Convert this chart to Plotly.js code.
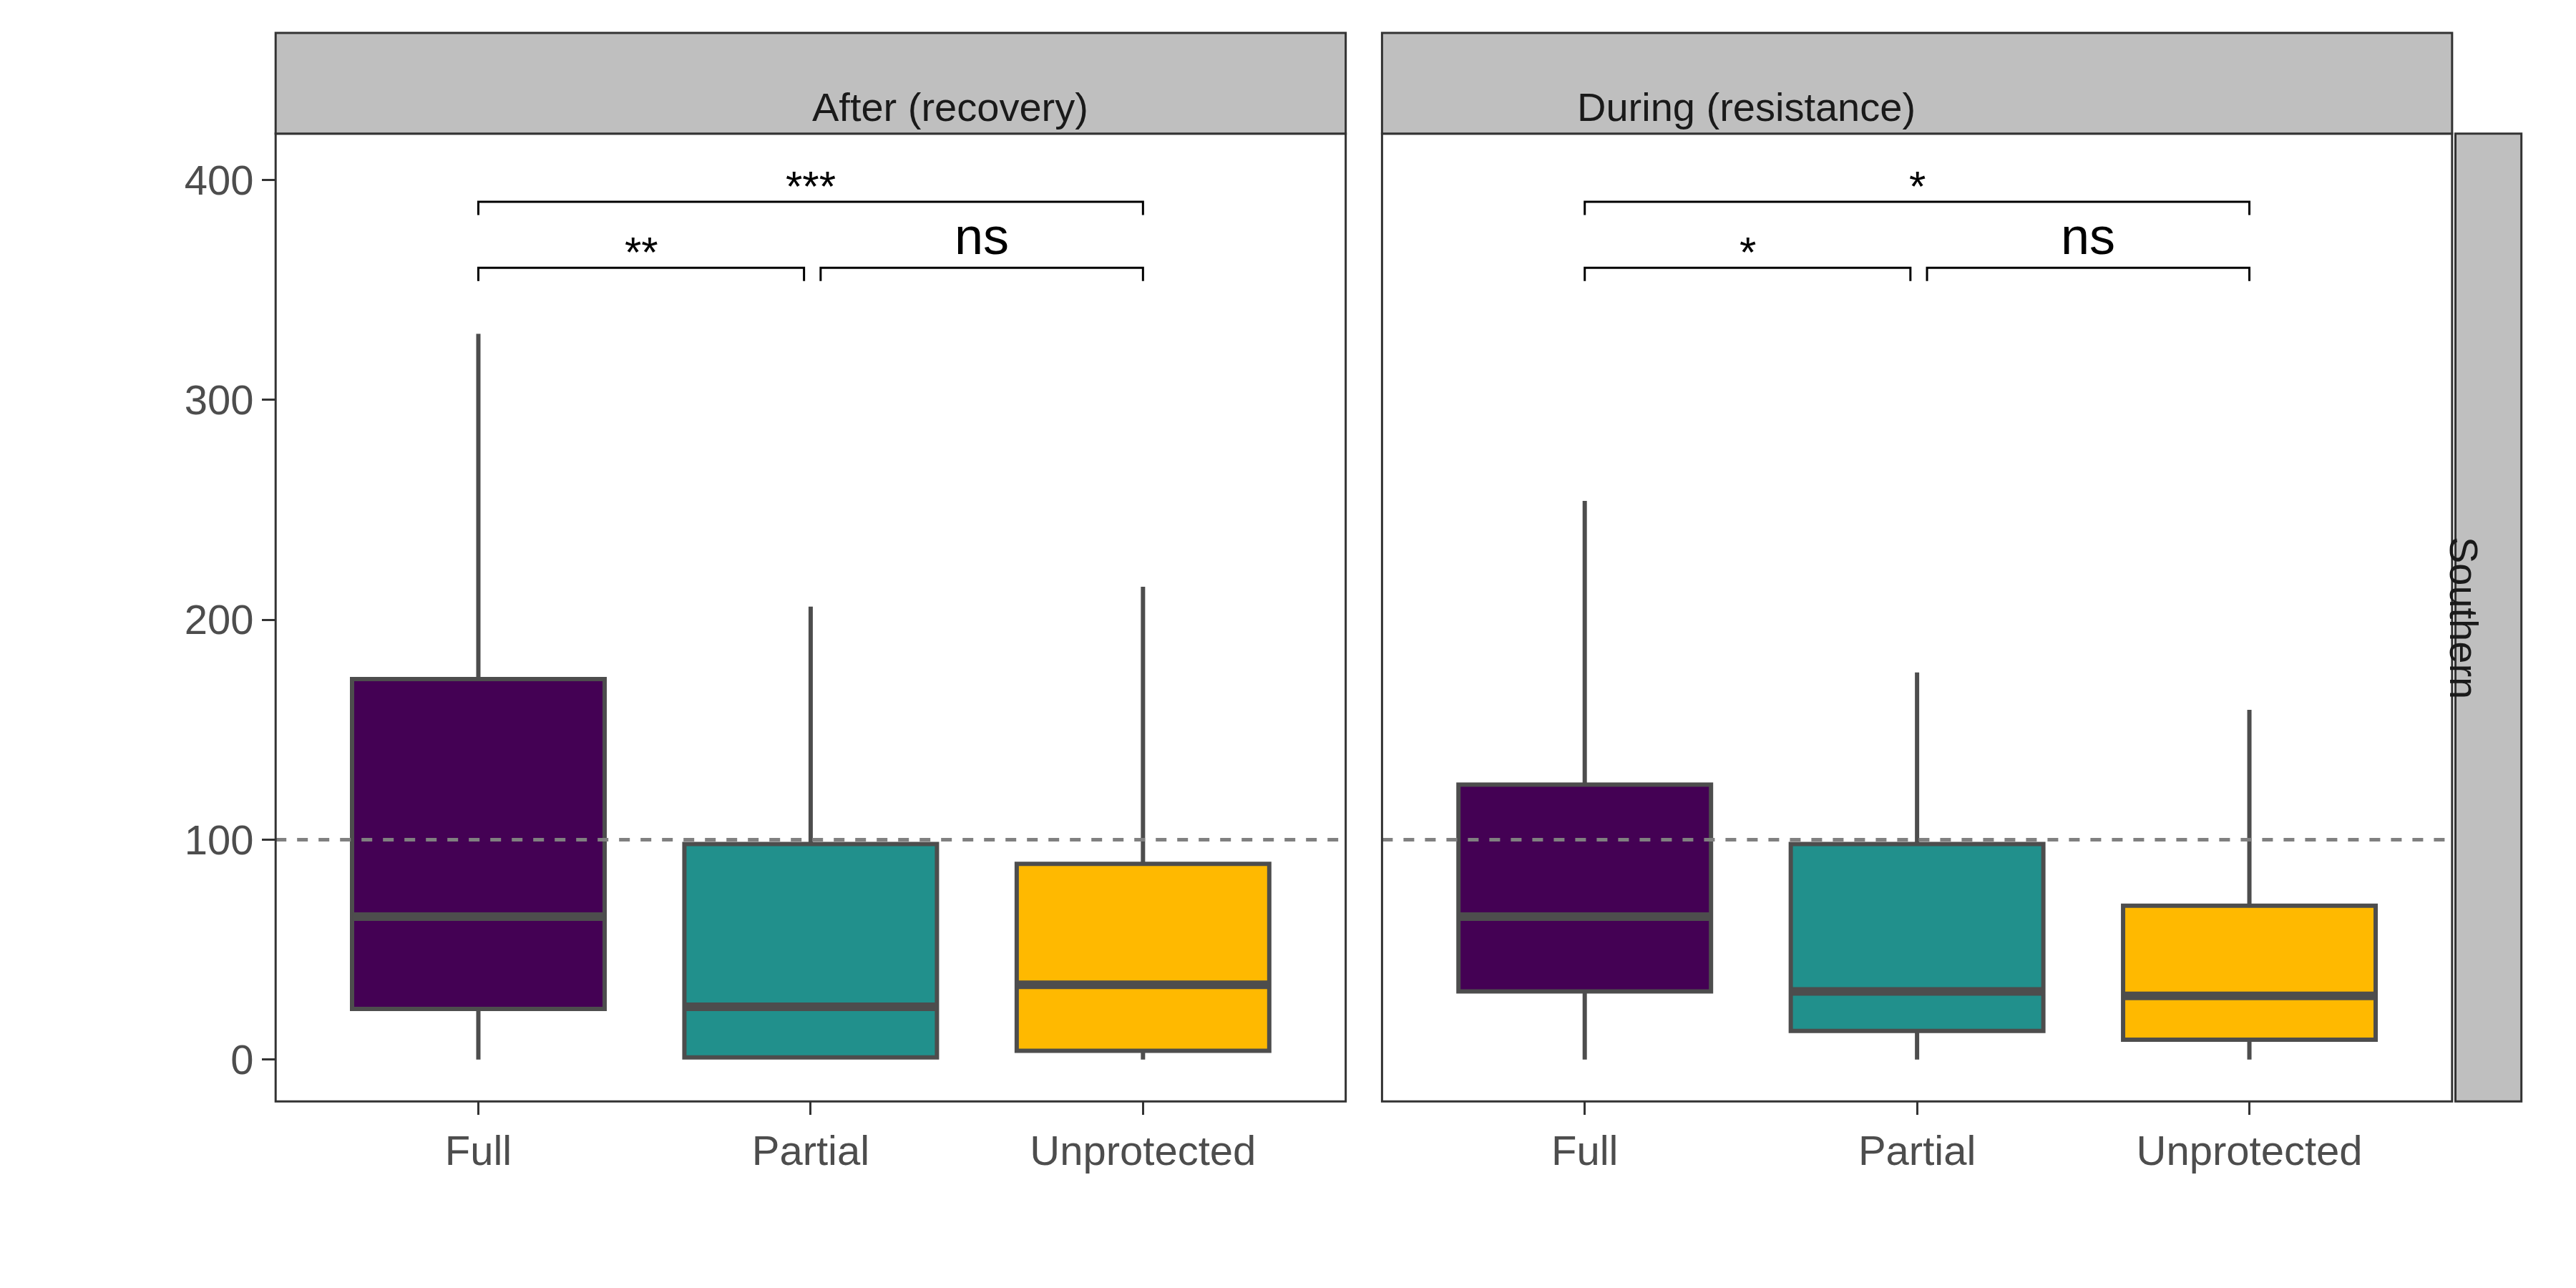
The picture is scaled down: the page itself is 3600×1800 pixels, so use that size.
<!DOCTYPE html>
<html>
<head>
<meta charset="utf-8">
<script src="https://cdn.plot.ly/plotly-3.0.1.min.js"></script>
<style>body{margin:0;background:#fff}</style>
</head>
<body>
<div id="graph"></div>
<script>
var categories = ["Full", "Partial", "Unprotected"];
var colors = ["#440154", "#21908C", "#FFB900"];
var panels = ["After (recovery)", "During (resistance)"];
// percent values per panel, per category
var q1     = [[23, 1, 4],     [31, 13, 9]];
var median = [[65, 24, 34],   [65, 31, 29]];
var q3     = [[173, 98, 89],  [125, 98, 70]];
var lower  = [[0, 0, 0],      [0, 0, 0]];
var upper  = [[330, 206, 215],[254, 176, 159]];
var sigLabels = [["**", "ns", "***"], ["*", "ns", "*"]];

var boxW = 0.76;
var line = "#4d4d4d";
var xDom = [[0.107, 0.5224], [0.5365, 0.9519]];
var yDom = [0.1449, 0.8962];
var data = [], shapes = [], annotations = [];

for (var p = 0; p < 2; p++) {
  var xa = p === 0 ? "x" : "x2", ya = p === 0 ? "y" : "y2";
  for (var c = 0; c < 3; c++) {
    data.push({
      type: "box", x: [c], q1: [q1[p][c]], median: [median[p][c]], q3: [q3[p][c]],
      lowerfence: [lower[p][c]], upperfence: [upper[p][c]],
      width: boxW, whiskerwidth: 0, fillcolor: colors[c],
      line: {color: line, width: 6}, xaxis: xa, yaxis: ya, hoverinfo: "none"
    });
    shapes.push({type: "line", xref: xa, yref: ya, x0: c - boxW / 2, x1: c + boxW / 2,
      y0: median[p][c], y1: median[p][c], line: {color: line, width: 12}});
  }
  // dashed reference at 100%
  shapes.push({type: "line", xref: xa + " domain", yref: ya, x0: 0, x1: 1, y0: 100, y1: 100,
    line: {color: "#808080", width: 5, dash: "dash"}, layer: "above"});
  // panel border
  shapes.push({type: "rect", xref: "paper", yref: "paper", x0: xDom[p][0], x1: xDom[p][1],
    y0: yDom[0], y1: yDom[1], line: {color: "#333", width: 3}});
  // strip
  shapes.push({type: "rect", xref: "paper", yref: "paper", x0: xDom[p][0], x1: xDom[p][1],
    y0: yDom[1], y1: 0.9744, fillcolor: "#bfbfbf", line: {color: "#333", width: 3}});
  annotations.push({xref: "paper", yref: "paper", x: (xDom[p][0] + xDom[p][1]) / 2,
    y: (yDom[1] + 0.9744) / 2, text: panels[p], showarrow: false,
    font: {size: 56, color: "#1a1a1a"}});
  // significance brackets
  var br = [[0, 0.98, 360, 354], [1.03, 2, 360, 354], [0, 2, 390, 384]];
  for (var b = 0; b < 3; b++) {
    var s = br[b];
    shapes.push({type: "path", xref: xa, yref: ya, line: {color: "#000", width: 3},
      path: "M" + s[0] + "," + s[3] + " L" + s[0] + "," + s[2] + " L" + s[1] + "," + s[2] + " L" + s[1] + "," + s[3]});
    var isNs = sigLabels[p][b] === "ns";
    annotations.push({xref: xa, yref: ya, x: (s[0] + s[1]) / 2, y: s[2], yanchor: "bottom",
      yshift: isNs ? 2 : -14, text: sigLabels[p][b], showarrow: false,
      font: {size: isNs ? 72 : 60, color: "#000"}});
  }
}
// right strip
shapes.push({type: "rect", xref: "paper", yref: "paper", x0: 0.9532, x1: 0.9788,
  y0: yDom[0], y1: yDom[1], fillcolor: "#bfbfbf", line: {color: "#333", width: 3}});
annotations.push({xref: "paper", yref: "paper", x: (0.9532 + 0.9788) / 2, y: (yDom[0] + yDom[1]) / 2,
  text: "Southern", textangle: 90, showarrow: false, font: {size: 56, color: "#1a1a1a"}});

var xCommon = {range: [-0.61, 2.61], tickvals: [0, 1, 2], ticktext: categories, showgrid: false,
  zeroline: false, ticks: "outside", ticklen: 18, tickwidth: 3, tickcolor: "#333",
  tickfont: {size: 58, color: "#4d4d4d"}, showline: false};
var yCommon = {range: [-19, 421], tickvals: [0, 100, 200, 300, 400], ticksuffix: "%",
  showgrid: false, zeroline: false, showline: false};

var layout = {
  width: 3600, height: 1800, margin: {t: 0, b: 0, l: 0, r: 0},
  paper_bgcolor: "#fff", plot_bgcolor: "#fff", showlegend: false,
  font: {family: "Liberation Sans, Arial, sans-serif"},
  xaxis: Object.assign({domain: xDom[0], anchor: "y"}, xCommon),
  xaxis2: Object.assign({domain: xDom[1], anchor: "y2"}, xCommon),
  yaxis: Object.assign({domain: yDom, anchor: "x", ticks: "outside", ticklen: 18, tickwidth: 3,
    tickcolor: "#333", tickfont: {size: 58, color: "#4d4d4d"}}, yCommon),
  yaxis2: Object.assign({domain: yDom, anchor: "x2", showticklabels: false, ticks: ""}, yCommon),
  shapes: shapes, annotations: annotations
};
Plotly.newPlot("graph", data, layout, {staticPlot: true});
</script>
</body>
</html>
